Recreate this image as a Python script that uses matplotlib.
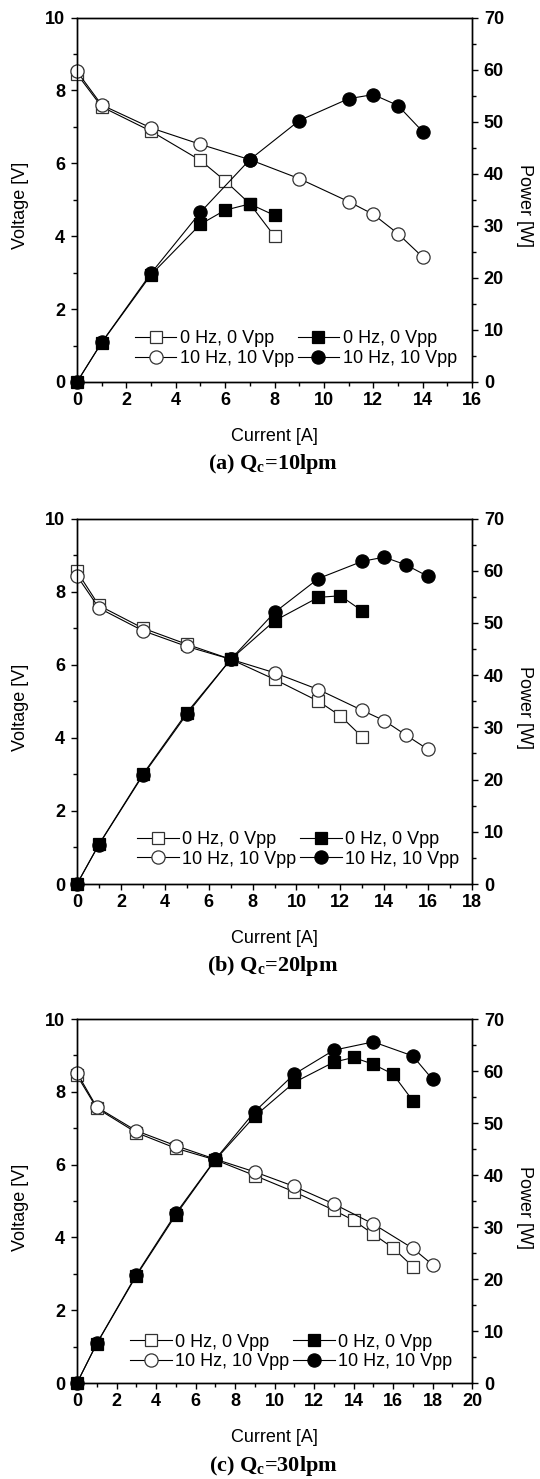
import matplotlib
matplotlib.use("Agg")
import matplotlib.pyplot as plt
from matplotlib.ticker import MultipleLocator

plt.rcParams['font.family'] = ['Liberation Sans', 'DejaVu Sans']
plt.rcParams['mathtext.default'] = 'regular'

# ---------------- data ----------------
# (a) Qc = 10 lpm
a_i0 = [0, 1, 3, 5, 6, 7, 8]
a_v0 = [8.45, 7.55, 6.88, 6.08, 5.52, 4.89, 4.0]
a_p0 = [0, 7.55, 20.6, 30.3, 33.0, 34.2, 32.0]
a_i10 = [0, 1, 3, 5, 7, 9, 11, 12, 13, 14]
a_v10 = [8.52, 7.6, 6.97, 6.52, 6.1, 5.58, 4.95, 4.6, 4.07, 3.43]
a_p10 = [0, 7.6, 20.9, 32.6, 42.7, 50.2, 54.4, 55.2, 53.1, 48.1]

# (b) Qc = 20 lpm
b_i0 = [0, 1, 3, 5, 7, 9, 11, 12, 13]
b_v0 = [8.55, 7.62, 7.0, 6.56, 6.15, 5.6, 5.0, 4.6, 4.02]
b_p0 = [0, 7.6, 21.0, 32.8, 43.0, 50.4, 54.9, 55.2, 52.3]
b_i10 = [0, 1, 3, 5, 7, 9, 11, 13, 14, 15, 16]
b_v10 = [8.43, 7.55, 6.93, 6.5, 6.15, 5.78, 5.32, 4.75, 4.47, 4.07, 3.68]
b_p10 = [0, 7.55, 20.8, 32.5, 43.0, 52.0, 58.5, 61.8, 62.6, 61.1, 58.9]

# (c) Qc = 30 lpm
c_i0 = [0, 1, 3, 5, 7, 9, 11, 13, 14, 15, 16, 17]
c_v0 = [8.45, 7.55, 6.88, 6.45, 6.13, 5.7, 5.25, 4.75, 4.47, 4.09, 3.71, 3.2]
c_p0 = [0, 7.55, 20.6, 32.3, 42.9, 51.3, 57.8, 61.7, 62.6, 61.3, 59.4, 54.3]
c_i10 = [0, 1, 3, 5, 7, 9, 11, 13, 15, 17, 18]
c_v10 = [8.52, 7.58, 6.93, 6.52, 6.15, 5.8, 5.4, 4.92, 4.37, 3.7, 3.25]
c_p10 = [0, 7.6, 20.8, 32.6, 43.0, 52.2, 59.4, 64.0, 65.6, 62.9, 58.4]

labels = ['0 Hz, 0 Vpp', '10 Hz, 10 Vpp']
captions = ['(a) Q$_\\mathregular{c}$=10lpm', '(b) Q$_\\mathregular{c}$=20lpm', '(c) Q$_\\mathregular{c}$=30lpm']
xmax = [16, 18, 20]

panels = [
    (a_i0, a_v0, a_p0, a_i10, a_v10, a_p10),
    (b_i0, b_v0, b_p0, b_i10, b_v10, b_p10),
    (c_i0, c_v0, c_p0, c_i10, c_v10, c_p10),
]

W, H = 540, 1479
fig = plt.figure(figsize=(W / 100, H / 100), dpi=100)

# pixel geometry: (top, bottom) of each axes, legend anchor
geo = [(17.5, 382, (0.962, 0.041)), (518.5, 884, (0.968, 0.045)), (1019, 1383, (0.950, 0.035))]
left_px, right_px = 77, 472

ms = 9.5
lw = 0.8
for k, (data, g) in enumerate(zip(panels, geo)):
    i0, v0, p0, i10, v10, p10 = data
    top, bot, lanchor = g
    ax = fig.add_axes([left_px / W, 1 - bot / H, (right_px - left_px) / W, (bot - top) / H])
    ax2 = ax.twinx()

    kw = dict(color='black', lw=lw, clip_on=False, markeredgewidth=0.9)
    h1, = ax.plot(i0, v0, marker='s', mfc='white', mec='#333333', ms=ms - 0.5, zorder=3, **kw)
    h2, = ax.plot(i10, v10, marker='o', mfc='white', mec='#333333', ms=ms, zorder=4, **kw)
    h3, = ax2.plot(i0, p0, marker='s', mfc='black', mec='black', ms=ms - 0.5, zorder=3, **kw)
    h4, = ax2.plot(i10, p10, marker='o', mfc='black', mec='black', ms=ms, zorder=4, **kw)

    ax.set_xlim(0, xmax[k])
    ax.set_ylim(0, 10)
    ax2.set_ylim(0, 70)
    ax.xaxis.set_major_locator(MultipleLocator(2))
    ax.xaxis.set_minor_locator(MultipleLocator(1))
    ax.yaxis.set_major_locator(MultipleLocator(2))
    ax.yaxis.set_minor_locator(MultipleLocator(1))
    ax2.yaxis.set_major_locator(MultipleLocator(10))
    ax2.yaxis.set_minor_locator(MultipleLocator(5))

    for a in (ax, ax2):
        a.tick_params(which='major', direction='out', length=4.5, width=1, labelsize=13)
        a.tick_params(which='minor', direction='out', length=3, width=1)
        a.tick_params(axis='y', pad=4)
        a.tick_params(axis='x', pad=3)
        for s in a.spines.values():
            s.set_linewidth(1)
        for t in a.get_xticklabels() + a.get_yticklabels():
            t.set_fontweight('bold')
    ax.tick_params(top=False, right=False)

    ycen = 1 - ((top + bot) / 2 + 6) / H
    fig.text(20.7 / W, ycen, 'Voltage [V]', rotation=90, ha='center', va='center', fontsize=13)
    fig.text(525 / W, ycen, 'Power [W]', rotation=270, ha='center', va='center', fontsize=13)

    xc = (left_px + right_px) / 2 / W
    fig.text(xc, 1 - (bot + 59) / H, 'Current [A]', ha='center', va='baseline', fontsize=13)
    fig.text(xc - 1.5 / W, 1 - (bot + 87.5) / H, captions[k], ha='center', va='baseline',
             fontsize=16, fontweight='bold', family=['Liberation Serif', 'DejaVu Serif'])

    leg = ax2.legend([h1, h2, h3, h4], [labels[0], labels[1], labels[0], labels[1]], ncol=2,
                     loc='lower right', bbox_to_anchor=lanchor, frameon=False, fontsize=13,
                     handlelength=2.3, handletextpad=0.2, columnspacing=0.2, labelspacing=0.15,
                     borderaxespad=0.0, borderpad=0.0)

fig.savefig('out.png', dpi=100)
